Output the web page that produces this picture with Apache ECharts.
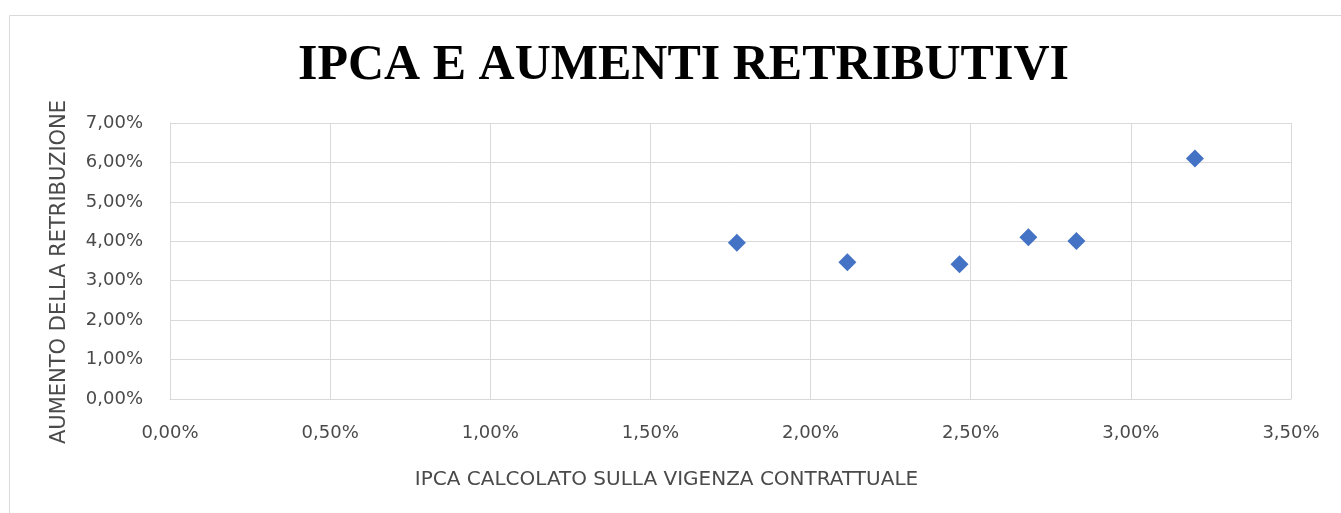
<!DOCTYPE html>
<html>
<head>
<meta charset="utf-8">
<script src="https://cdn.jsdelivr.net/npm/echarts@6/dist/echarts.min.js"></script>
<style>
  html, body { margin: 0; padding: 0; background: #fff; }
  #chart { width: 1341px; height: 513px; }
</style>
</head>
<body>
<div id="chart"></div>
<script>
// IPCA over the contract period (x) vs pay increase (y), in %
const ipca = [1.77, 2.115, 2.465, 2.68, 2.83, 3.2];
const aumento = [3.96, 3.47, 3.42, 4.10, 4.01, 6.10];

const xTicks = { min: 0, max: 3.5, interval: 0.5 };
const yTicks = { min: 0, max: 7, interval: 1 };

const points = ipca.map((x, i) => [x, aumento[i]]);

// italian style percent: 1,50%
const pct = v => v.toFixed(2).replace('.', ',') + '%';

const labelFont = 'DejaVu Sans';
const labelColor = '#4a4a4a';
const gray = '#d9d9d9';

const option = {
  animation: false,
  backgroundColor: '#fff',
  title: {
    text: 'IPCA E AUMENTI RETRIBUTIVI',
    left: 293,
    top: 36,
    textStyle: {
      fontFamily: 'Liberation Serif',
      fontWeight: 'bold',
      fontSize: 50,
      color: '#000'
    }
  },
  graphic: [{
    type: 'rect',
    shape: { x: 9.5, y: 15.5, width: 1340, height: 520 },
    style: { fill: 'none', stroke: gray, lineWidth: 1 },
    silent: true
  }],
  grid: {
    left: 170,
    right: 50,
    top: 123,
    bottom: 114
  },
  xAxis: {
    type: 'value',
    min: xTicks.min,
    max: xTicks.max,
    interval: xTicks.interval,
    name: 'IPCA CALCOLATO SULLA VIGENZA CONTRATTUALE',
    nameLocation: 'middle',
    nameGap: 71,
    nameTextStyle: {
      fontFamily: labelFont,
      fontSize: 20,
      color: labelColor,
      padding: [0, 128, 0, 0]
    },
    axisLine: { show: true, lineStyle: { color: gray } },
    axisTick: { show: false },
    axisLabel: {
      margin: 25,
      formatter: pct,
      fontFamily: labelFont,
      fontSize: 18,
      color: labelColor
    },
    splitLine: { show: true, lineStyle: { color: gray, width: 1 } }
  },
  yAxis: {
    type: 'value',
    min: yTicks.min,
    max: yTicks.max,
    interval: yTicks.interval,
    name: 'AUMENTO DELLA RETRIBUZIONE',
    nameLocation: 'middle',
    nameGap: 100,
    nameTextStyle: {
      fontFamily: labelFont,
      fontSize: 21,
      color: labelColor,
      padding: [0, 22, 0, 0]
    },
    axisLine: { show: true, lineStyle: { color: gray } },
    axisTick: { show: false },
    axisLabel: {
      margin: 27,
      formatter: pct,
      fontFamily: labelFont,
      fontSize: 18,
      color: labelColor
    },
    splitLine: { show: true, lineStyle: { color: gray, width: 1 } }
  },
  series: [{
    type: 'scatter',
    symbol: 'diamond',
    symbolSize: 18,
    itemStyle: { color: '#4472c4', opacity: 1 },
    data: points
  }]
};

const myChart = echarts.init(document.getElementById('chart'));
myChart.setOption(option);
</script>
</body>
</html>
